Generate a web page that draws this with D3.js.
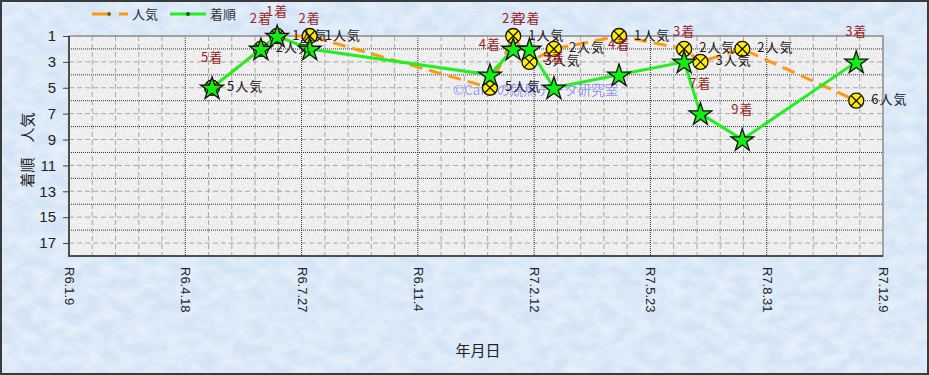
<!DOCTYPE html>
<meta charset="utf-8">
<style>
  body { margin: 0; font-family: 'Liberation Sans', Arial, sans-serif; }
  .jp { font-family: 'Noto Sans CJK JP', sans-serif; }
  .axis text { font-family: 'Liberation Sans', Arial, sans-serif; fill: #222; }
  .axis line { stroke: #444; }
</style>
<body>
<script src="https://d3js.org/d3.v7.min.js"></script>
<script>
// race data
var raceDates = ["2024-05-11", "2024-06-22", "2024-07-06", "2024-08-03", "2025-01-05", "2025-01-25",
  "2025-02-08", "2025-03-01", "2025-04-26", "2025-06-21", "2025-07-05", "2025-08-10", "2025-11-16"];
var finish = [5, 2, 1, 2, 4, 2, 2, 5, 4, 3, 7, 9, 3];       // 着順
var popularity = [5, 2, 1, 1, 5, 1, 3, 2, 1, 2, 3, 2, 6];   // 人気

var xTickDates = ["2024-01-09", "2024-04-18", "2024-07-27", "2024-11-04", "2025-02-12", "2025-05-23", "2025-08-31", "2025-12-09"];
var xTickLabels = ["R6.1.9", "R6.4.18", "R6.7.27", "R6.11.4", "R7.2.12", "R7.5.23", "R7.8.31", "R7.12.9"];
var yTicks = [1, 3, 5, 7, 9, 11, 13, 15, 17];

var W = 929, H = 375;
var margin = { top: 36, right: 46, bottom: 119, left: 69 },
  width = W - margin.left - margin.right,
  height = H - margin.top - margin.bottom;

var parse = d3.utcParse("%Y-%m-%d");
var data = raceDates.map(function(d, i) {
  return { date: parse(d), fin: finish[i], pop: popularity[i] };
});

var svg = d3.select("body").append("svg")
  .attr("width", W)
  .attr("height", H);

// textures
var defs = svg.append("defs");
var f1 = defs.append("filter").attr("id", "bgTex").attr("x", 0).attr("y", 0).attr("width", 1).attr("height", 1);
f1.append("feTurbulence").attr("type", "fractalNoise").attr("baseFrequency", "0.06 0.09").attr("numOctaves", 3).attr("seed", 7);
f1.append("feColorMatrix").attr("type", "matrix")
  .attr("values", "0 0 0 0 1  0 0 0 0 1  0 0 0 0 1  1.1 0 0 0 -0.3");
var f2 = defs.append("filter").attr("id", "plotTex").attr("x", 0).attr("y", 0).attr("width", 1).attr("height", 1);
f2.append("feTurbulence").attr("type", "fractalNoise").attr("baseFrequency", "0.7").attr("numOctaves", 2).attr("seed", 3);
f2.append("feColorMatrix").attr("type", "matrix")
  .attr("values", "0 0 0 0 0.55  0 0 0 0 0.55  0 0 0 0 0.55  0.9 0 0 0 -0.35");

// page background
svg.append("rect").attr("width", W).attr("height", H).attr("fill", "#d3e4f6");
svg.append("rect").attr("width", W).attr("height", H).attr("filter", "url(#bgTex)").attr("opacity", 0.75);
svg.append("rect").attr("x", 1).attr("y", 1).attr("width", W - 2).attr("height", H - 2)
  .attr("fill", "none").attr("stroke", "#3a3a3a").attr("stroke-width", 2);

var g = svg.append("g").attr("transform", "translate(" + margin.left + "," + margin.top + ")");

// scales
var x = d3.scaleUtc()
  .domain([parse(xTickDates[0]), parse(xTickDates[xTickDates.length - 1])])
  .range([0, width]);
var y = d3.scaleLinear()
  .domain([1, 18])
  .range([0, height]);

// plot area
g.append("rect").attr("width", width).attr("height", height).attr("fill", "#f4f4f4");
g.append("rect").attr("width", width).attr("height", height).attr("filter", "url(#plotTex)");

// minor vertical grid every 20 days
var minorX = d3.utcDay.range(x.domain()[0], x.domain()[1], 1).filter(function(d, i) { return i % 20 === 0 && i % 100 !== 0; });
g.selectAll(".vminor").data(minorX).enter().append("line")
  .attr("x1", function(d) { return x(d); }).attr("x2", function(d) { return x(d); })
  .attr("y1", 0).attr("y2", height)
  .attr("stroke", "#a8a8a8").attr("stroke-width", 1).attr("stroke-dasharray", "5,3");
// minor horizontal grid at odd values
g.selectAll(".hminor").data(yTicks.slice(1)).enter().append("line")
  .attr("x1", 0).attr("x2", width)
  .attr("y1", function(d) { return y(d); }).attr("y2", function(d) { return y(d); })
  .attr("stroke", "#a8a8a8").attr("stroke-width", 1).attr("stroke-dasharray", "5,3");
// major grid
g.selectAll(".vmajor").data(xTickDates.slice(1, -1)).enter().append("line")
  .attr("x1", function(d) { return x(parse(d)); }).attr("x2", function(d) { return x(parse(d)); })
  .attr("y1", 0).attr("y2", height)
  .attr("stroke", "#333").attr("stroke-width", 1).attr("stroke-dasharray", "1,1");
g.selectAll(".hmajor").data(d3.range(2, 18, 2)).enter().append("line")
  .attr("x1", 0).attr("x2", width)
  .attr("y1", function(d) { return y(d); }).attr("y2", function(d) { return y(d); })
  .attr("stroke", "#333").attr("stroke-width", 1).attr("stroke-dasharray", "1,1");

// plot border
g.append("rect").attr("width", width).attr("height", height)
  .attr("fill", "none").attr("stroke", "#8a8a8a").attr("stroke-width", 1.5);
g.append("path").attr("d", "M0,0V" + height + "H" + width)
  .attr("fill", "none").attr("stroke", "#333").attr("stroke-width", 1.5);

// axes
var yAxis = g.append("g").attr("class", "axis")
  .call(d3.axisLeft(y).tickValues(yTicks).tickSize(6).tickPadding(7));
yAxis.select(".domain").remove();
yAxis.selectAll("text").style("font-size", "15px");

var xAxis = g.append("g").attr("class", "axis")
  .attr("transform", "translate(0," + height + ")")
  .call(d3.axisBottom(x).tickValues(xTickDates.map(parse)).tickSize(0)
    .tickFormat(function(d, i) { return xTickLabels[i]; }));
xAxis.select(".domain").remove();
xAxis.selectAll("text")
  .style("font-size", "13px")
  .attr("transform", "rotate(90)")
  .attr("text-anchor", "start")
  .attr("x", 11).attr("y", 0).attr("dy", "0.35em");

// axis titles
svg.append("text").attr("class", "jp")
  .attr("transform", "translate(29,150) rotate(-90)")
  .attr("text-anchor", "middle").attr("dominant-baseline", "middle")
  .style("font-size", "15px").attr("fill", "#222")
  .text("着順　人気");
svg.append("text").attr("class", "jp")
  .attr("x", 478).attr("y", 352)
  .attr("text-anchor", "middle").attr("dominant-baseline", "middle")
  .style("font-size", "15px").attr("fill", "#222")
  .text("年月日");

// watermark
g.append("text").attr("class", "jp")
  .attr("x", 453 - margin.left).attr("y", 91 - margin.top)
  .attr("dominant-baseline", "middle")
  .style("font-size", "13.5px").attr("fill", "#8a8cf5").attr("opacity", 0.85)
  .text("©Camiの競馬データ研究室");

// lines
var popLine = d3.line().x(function(d) { return x(d.date); }).y(function(d) { return y(d.pop); });
var finLine = d3.line().x(function(d) { return x(d.date); }).y(function(d) { return y(d.fin); });

g.append("path").datum(data).attr("d", popLine)
  .attr("fill", "none").attr("stroke", "#ff9910").attr("stroke-width", 3).attr("stroke-dasharray", "13,7");
g.append("path").datum(data).attr("d", finLine)
  .attr("fill", "none").attr("stroke", "#22ee22").attr("stroke-width", 3);

// popularity markers: yellow circles with a cross
var pm = g.selectAll(".pop").data(data).enter().append("g")
  .attr("transform", function(d) { return "translate(" + x(d.date) + "," + y(d.pop) + ")"; });
pm.append("circle").attr("r", 7.5).attr("fill", "#ffee00").attr("stroke", "#111").attr("stroke-width", 1.3);
pm.append("path").attr("d", "M-5,-5L5,5M5,-5L-5,5").attr("stroke", "#111").attr("stroke-width", 1.3);

// finish markers: green stars
g.selectAll(".fin").data(data).enter().append("path")
  .attr("transform", function(d) { return "translate(" + x(d.date) + "," + (y(d.fin) + 1) + ")"; })
  .attr("d", d3.symbol().type(d3.symbolStar).size(160))
  .attr("fill", "#11ee11").attr("stroke", "#111").attr("stroke-width", 1.3);

// labels
g.selectAll(".popLabel").data(data).enter().append("text").attr("class", "jp")
  .attr("x", function(d) { return x(d.date) + 15; })
  .attr("y", function(d) { return y(d.pop); })
  .attr("dominant-baseline", "middle")
  .style("font-size", "13px").style("letter-spacing", "1px").attr("fill", "#1a1a1a")
  .text(function(d) { return d.pop + "人気"; });

g.selectAll(".finLabel").data(data).enter().append("text").attr("class", "jp")
  .attr("x", function(d) { return x(d.date); })
  .attr("y", function(d) { return Math.max(y(d.fin) - 29, 12 - margin.top); })
  .attr("text-anchor", "middle").attr("dominant-baseline", "middle")
  .style("font-size", "13px").style("letter-spacing", "1px").attr("fill", "#9a1e1e")
  .text(function(d) { return d.fin + "着"; });

// legend
var lg = svg.append("g");
lg.append("line").attr("x1", 92).attr("x2", 128).attr("y1", 14).attr("y2", 14)
  .attr("stroke", "#ff9910").attr("stroke-width", 3).attr("stroke-dasharray", "15,12");
lg.append("circle").attr("cx", 109).attr("cy", 14).attr("r", 2).attr("fill", "#776600");
lg.append("text").attr("class", "jp").attr("x", 132).attr("y", 15).attr("dominant-baseline", "middle")
  .style("font-size", "13px").attr("fill", "#333").text("人気");
lg.append("line").attr("x1", 170).attr("x2", 206).attr("y1", 14).attr("y2", 14)
  .attr("stroke", "#22ee22").attr("stroke-width", 3);
lg.append("circle").attr("cx", 188).attr("cy", 14).attr("r", 2).attr("fill", "#225522");
lg.append("text").attr("class", "jp").attr("x", 210).attr("y", 15).attr("dominant-baseline", "middle")
  .style("font-size", "13px").attr("fill", "#333").text("着順");
</script>
</body>
